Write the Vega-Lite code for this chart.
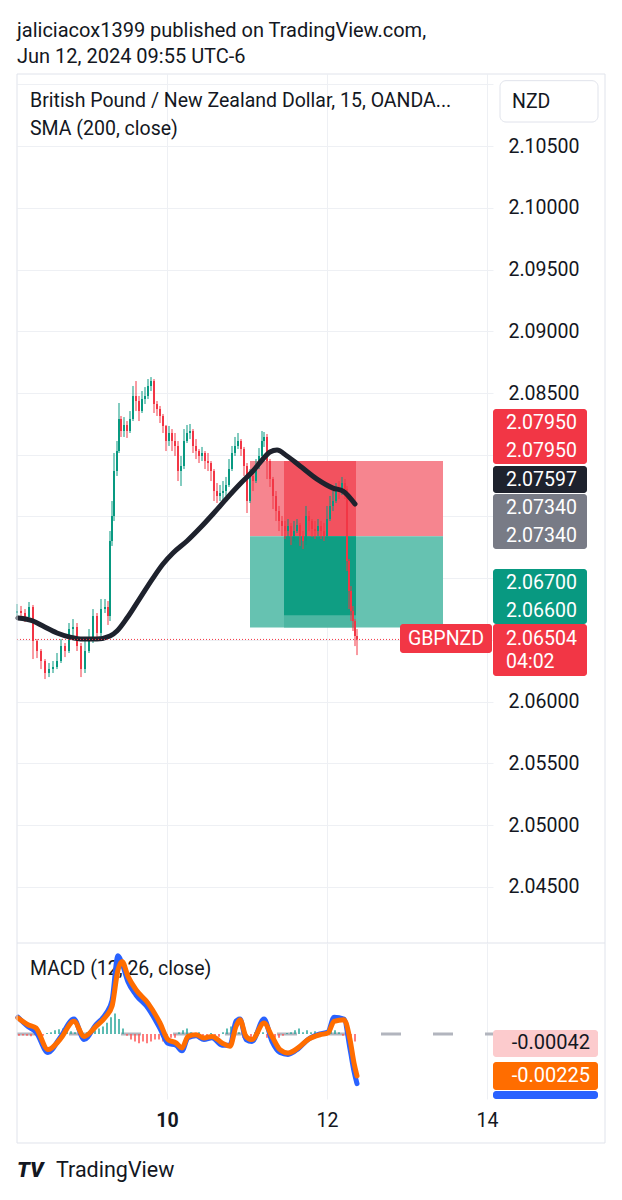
{
"$schema": "https://vega.github.io/schema/vega-lite/v6.json",
"background": "white",
"padding": {"left": 7, "top": 20, "right": 0, "bottom": 0},
"title": {"text": ["jaliciacox1399 published on TradingView.com,", "Jun 12, 2024 09:55 UTC-6"], "anchor": "start", "font": "Roboto", "fontSize": 20, "fontWeight": "normal", "color": "#131722", "lineHeight": 26, "offset": 7, "frame": "group"},
"spacing": 0,
"bounds": "flush",
"config": {"view": {"stroke": null}, "font": "Roboto", "axis": {"labelFont": "Roboto"}, "text": {"font": "Roboto"}},
"datasets": {
"candles": [
{"t":8.125,"o":2.06718,"h":2.06791,"l":2.06693,"c":2.06734},
{"t":8.175,"o":2.06734,"h":2.06775,"l":2.06669,"c":2.06718},
{"t":8.225,"o":2.06718,"h":2.0675,"l":2.06645,"c":2.06685},
{"t":8.275,"o":2.06685,"h":2.06807,"l":2.06669,"c":2.06766},
{"t":8.325,"o":2.06766,"h":2.06783,"l":2.06345,"c":2.06491},
{"t":8.375,"o":2.06491,"h":2.06507,"l":2.06353,"c":2.0641},
{"t":8.425,"o":2.0641,"h":2.06426,"l":2.06264,"c":2.06329},
{"t":8.475,"o":2.06329,"h":2.06345,"l":2.06183,"c":2.06232},
{"t":8.525,"o":2.06232,"h":2.06313,"l":2.06199,"c":2.06264},
{"t":8.575,"o":2.06264,"h":2.06329,"l":2.06232,"c":2.0628},
{"t":8.625,"o":2.0628,"h":2.06394,"l":2.06264,"c":2.06329},
{"t":8.675,"o":2.06329,"h":2.06507,"l":2.06313,"c":2.0645},
{"t":8.725,"o":2.0645,"h":2.06475,"l":2.06361,"c":2.0641},
{"t":8.775,"o":2.0641,"h":2.06637,"l":2.06394,"c":2.06588},
{"t":8.825,"o":2.06588,"h":2.06669,"l":2.06523,"c":2.06604},
{"t":8.875,"o":2.06604,"h":2.06637,"l":2.0641,"c":2.0645},
{"t":8.925,"o":2.0645,"h":2.06475,"l":2.06199,"c":2.06264},
{"t":8.975,"o":2.06264,"h":2.06507,"l":2.06232,"c":2.0641},
{"t":9.025,"o":2.0641,"h":2.06588,"l":2.06394,"c":2.06507},
{"t":9.075,"o":2.06507,"h":2.0675,"l":2.06475,"c":2.06693},
{"t":9.125,"o":2.06693,"h":2.06718,"l":2.06523,"c":2.06556},
{"t":9.175,"o":2.06556,"h":2.06831,"l":2.06531,"c":2.0675},
{"t":9.225,"o":2.0675,"h":2.06831,"l":2.06718,"c":2.06766},
{"t":9.2625,"o":2.06766,"h":2.06815,"l":2.06621,"c":2.06693},
{"t":9.2875,"o":2.06693,"h":2.07382,"l":2.06653,"c":2.07301},
{"t":9.3125,"o":2.07301,"h":2.07625,"l":2.07261,"c":2.07504},
{"t":9.3375,"o":2.07504,"h":2.08014,"l":2.07463,"c":2.07868},
{"t":9.375,"o":2.07868,"h":2.08111,"l":2.07828,"c":2.0803},
{"t":9.4,"o":2.0803,"h":2.08419,"l":2.08014,"c":2.08289},
{"t":9.425,"o":2.08289,"h":2.08314,"l":2.08144,"c":2.08192},
{"t":9.4625,"o":2.08192,"h":2.08305,"l":2.08144,"c":2.08241},
{"t":9.5,"o":2.08241,"h":2.08273,"l":2.08136,"c":2.08192},
{"t":9.5375,"o":2.08192,"h":2.08354,"l":2.08176,"c":2.08289},
{"t":9.575,"o":2.08289,"h":2.08557,"l":2.08273,"c":2.08476},
{"t":9.6125,"o":2.08476,"h":2.08597,"l":2.08354,"c":2.08435},
{"t":9.65,"o":2.08435,"h":2.08476,"l":2.08273,"c":2.08354},
{"t":9.6875,"o":2.08354,"h":2.08516,"l":2.08338,"c":2.08451},
{"t":9.725,"o":2.08451,"h":2.08548,"l":2.08411,"c":2.08476},
{"t":9.7625,"o":2.08476,"h":2.08613,"l":2.08451,"c":2.08557},
{"t":9.8,"o":2.08557,"h":2.08629,"l":2.08516,"c":2.08597},
{"t":9.8375,"o":2.08597,"h":2.08613,"l":2.08338,"c":2.08411},
{"t":9.875,"o":2.08411,"h":2.08435,"l":2.08314,"c":2.0837},
{"t":9.9125,"o":2.0837,"h":2.08395,"l":2.08257,"c":2.08314},
{"t":9.95,"o":2.08314,"h":2.0833,"l":2.08176,"c":2.08233},
{"t":9.9875,"o":2.08233,"h":2.08241,"l":2.0803,"c":2.08111},
{"t":10.025,"o":2.08111,"h":2.08233,"l":2.08071,"c":2.08176},
{"t":10.0625,"o":2.08176,"h":2.08208,"l":2.0803,"c":2.08111},
{"t":10.1,"o":2.08111,"h":2.08176,"l":2.0799,"c":2.08071},
{"t":10.1375,"o":2.08071,"h":2.08111,"l":2.07787,"c":2.07868},
{"t":10.175,"o":2.07868,"h":2.0799,"l":2.07747,"c":2.07909},
{"t":10.2125,"o":2.07909,"h":2.08208,"l":2.07884,"c":2.08111},
{"t":10.25,"o":2.08111,"h":2.08241,"l":2.08095,"c":2.08176},
{"t":10.2875,"o":2.08176,"h":2.08249,"l":2.08127,"c":2.08192},
{"t":10.325,"o":2.08192,"h":2.08208,"l":2.08014,"c":2.08071},
{"t":10.3625,"o":2.08071,"h":2.08127,"l":2.07965,"c":2.0803},
{"t":10.4,"o":2.0803,"h":2.08046,"l":2.07933,"c":2.0799},
{"t":10.4375,"o":2.0799,"h":2.08063,"l":2.07949,"c":2.08014},
{"t":10.475,"o":2.08014,"h":2.0803,"l":2.07884,"c":2.07949},
{"t":10.5125,"o":2.07949,"h":2.08014,"l":2.07868,"c":2.07933},
{"t":10.55,"o":2.07933,"h":2.07949,"l":2.07787,"c":2.07868},
{"t":10.5875,"o":2.07868,"h":2.07884,"l":2.07625,"c":2.07706},
{"t":10.625,"o":2.07706,"h":2.07771,"l":2.07609,"c":2.07666},
{"t":10.6625,"o":2.07666,"h":2.07755,"l":2.07625,"c":2.0769},
{"t":10.7,"o":2.0769,"h":2.07787,"l":2.07601,"c":2.07706},
{"t":10.7375,"o":2.07706,"h":2.0782,"l":2.07666,"c":2.07755},
{"t":10.775,"o":2.07755,"h":2.07965,"l":2.07739,"c":2.07884},
{"t":10.8125,"o":2.07884,"h":2.08071,"l":2.07868,"c":2.08014},
{"t":10.85,"o":2.08014,"h":2.08144,"l":2.0799,"c":2.08071},
{"t":10.8875,"o":2.08071,"h":2.08176,"l":2.08046,"c":2.08111},
{"t":10.925,"o":2.08111,"h":2.08127,"l":2.0799,"c":2.08046},
{"t":10.9625,"o":2.08046,"h":2.08063,"l":2.07828,"c":2.07909},
{"t":11.0,"o":2.07909,"h":2.07933,"l":2.07528,"c":2.07625},
{"t":11.0375,"o":2.07625,"h":2.07884,"l":2.07609,"c":2.07828},
{"t":11.075,"o":2.07828,"h":2.07884,"l":2.07706,"c":2.07787},
{"t":11.1125,"o":2.07787,"h":2.07965,"l":2.07771,"c":2.07909},
{"t":11.15,"o":2.07909,"h":2.08054,"l":2.07884,"c":2.0799},
{"t":11.1875,"o":2.0799,"h":2.08192,"l":2.07965,"c":2.08111},
{"t":11.2125,"o":2.08111,"h":2.08184,"l":2.08063,"c":2.08144},
{"t":11.25,"o":2.08144,"h":2.08168,"l":2.07803,"c":2.07949},
{"t":11.2875,"o":2.07949,"h":2.07965,"l":2.07739,"c":2.07803},
{"t":11.325,"o":2.07803,"h":2.0782,"l":2.0756,"c":2.07666},
{"t":11.3625,"o":2.07666,"h":2.07706,"l":2.07463,"c":2.07544},
{"t":11.4,"o":2.07544,"h":2.07585,"l":2.07382,"c":2.07463},
{"t":11.4375,"o":2.07463,"h":2.07504,"l":2.07342,"c":2.07423},
{"t":11.475,"o":2.07423,"h":2.07463,"l":2.07317,"c":2.07382},
{"t":11.5125,"o":2.07382,"h":2.07479,"l":2.07334,"c":2.07423},
{"t":11.55,"o":2.07423,"h":2.07447,"l":2.07269,"c":2.07342},
{"t":11.5875,"o":2.07342,"h":2.07463,"l":2.07301,"c":2.07382},
{"t":11.625,"o":2.07382,"h":2.07479,"l":2.07366,"c":2.07431},
{"t":11.6625,"o":2.07431,"h":2.07447,"l":2.07261,"c":2.07342},
{"t":11.7,"o":2.07342,"h":2.07382,"l":2.07236,"c":2.07301},
{"t":11.7375,"o":2.07301,"h":2.07585,"l":2.07269,"c":2.07504},
{"t":11.775,"o":2.07504,"h":2.07544,"l":2.07382,"c":2.07463},
{"t":11.8125,"o":2.07463,"h":2.07479,"l":2.07334,"c":2.07398},
{"t":11.85,"o":2.07398,"h":2.07463,"l":2.07317,"c":2.07382},
{"t":11.8875,"o":2.07382,"h":2.07479,"l":2.07342,"c":2.07423},
{"t":11.925,"o":2.07423,"h":2.07463,"l":2.07317,"c":2.07382},
{"t":11.9625,"o":2.07382,"h":2.07447,"l":2.07301,"c":2.07342},
{"t":12.0,"o":2.07342,"h":2.07585,"l":2.07326,"c":2.07479},
{"t":12.0375,"o":2.07479,"h":2.07666,"l":2.07463,"c":2.07585},
{"t":12.075,"o":2.07585,"h":2.07706,"l":2.07544,"c":2.07625},
{"t":12.1125,"o":2.07625,"h":2.07771,"l":2.07609,"c":2.07706},
{"t":12.15,"o":2.07706,"h":2.07787,"l":2.07641,"c":2.077},
{"t":12.1875,"o":2.077,"h":2.0782,"l":2.07674,"c":2.07771},
{"t":12.225,"o":2.07771,"h":2.07803,"l":2.07641,"c":2.07722},
{"t":12.25,"o":2.07722,"h":2.07747,"l":2.07058,"c":2.07139},
{"t":12.275,"o":2.07139,"h":2.07155,"l":2.0675,"c":2.06896},
{"t":12.3,"o":2.06896,"h":2.06936,"l":2.06653,"c":2.06734},
{"t":12.325,"o":2.06734,"h":2.06775,"l":2.06572,"c":2.06653},
{"t":12.35,"o":2.06653,"h":2.06669,"l":2.0645,"c":2.06531},
{"t":12.375,"o":2.06531,"h":2.06588,"l":2.06377,"c":2.06504}
],
"sma": [
{"t":8.1375,"v":2.06677},{"t":8.325,"v":2.06653},{"t":8.45,"v":2.06612},{"t":8.625,"v":2.06556},
{"t":8.7875,"v":2.06523},{"t":8.95,"v":2.06507},{"t":9.125,"v":2.06507},{"t":9.2875,"v":2.06531},
{"t":9.375,"v":2.06572},{"t":9.5,"v":2.06677},{"t":9.6625,"v":2.06839},{"t":9.825,"v":2.07001},
{"t":9.95,"v":2.07115},{"t":10.075,"v":2.07204},{"t":10.25,"v":2.07301},{"t":10.4125,"v":2.07406},
{"t":10.575,"v":2.0752},{"t":10.75,"v":2.07649},{"t":10.9125,"v":2.07763},{"t":11.075,"v":2.07868},
{"t":11.2,"v":2.07965},{"t":11.2875,"v":2.08022},{"t":11.375,"v":2.08038},{"t":11.5,"v":2.0799},
{"t":11.6625,"v":2.07909},{"t":11.875,"v":2.07803},{"t":12.075,"v":2.0773},{"t":12.2,"v":2.07706},
{"t":12.35,"v":2.07601}
],
"zones": [
{"t0":11.0375,"t1":13.45,"p0":2.0734,"p1":2.0795,"z":"stop"},
{"t0":11.0375,"t1":13.45,"p0":2.066,"p1":2.0734,"z":"target"},
{"t0":11.4625,"t1":12.3625,"p0":2.0734,"p1":2.0795,"z":"stopHit"},
{"t0":11.4625,"t1":12.3625,"p0":2.066,"p1":2.0734,"z":"targetMid"},
{"t0":11.4625,"t1":12.3625,"p0":2.067,"p1":2.0734,"z":"targetHit"}
],
"tags": [
{"g":"stop","hi":2.0837,"lo":2.07925},
{"g":"sma","hi":2.07909,"lo":2.0769},
{"g":"entry","hi":2.07682,"lo":2.07236},
{"g":"target","hi":2.07074,"lo":2.06629},
{"g":"last","hi":2.06629,"lo":2.06208}
],
"tagText": [
{"label":"2.07950","p":2.08257},
{"label":"2.07950","p":2.0803},
{"label":"2.07597","p":2.07795},
{"label":"2.07340","p":2.07568},
{"label":"2.07340","p":2.07342},
{"label":"2.06700","p":2.06961},
{"label":"2.06600","p":2.06734},
{"label":"2.06504","p":2.06507},
{"label":"04:02","p":2.06321}
],
"macd": [
{"t":8.1375,"m":0.0009,"s":0.00086},{"t":8.2625,"m":0.0004,"s":0.0005},{"t":8.3625,"m":0.0001,"s":0.00032},
{"t":8.5125,"m":-0.001,"s":-0.00084},{"t":8.6625,"m":-0.0002,"s":-0.0003},{"t":8.8375,"m":0.0008,"s":0.00068},
{"t":8.9625,"m":-0.0003,"s":-0.00013},{"t":9.1125,"m":0.0005,"s":0.00041},{"t":9.2375,"m":0.0011,"s":0.00095},
{"t":9.3125,"m":0.0018,"s":0.00149},{"t":9.3875,"m":0.0042,"s":0.00345},{"t":9.4375,"m":0.0038,"s":0.0039},
{"t":9.5125,"m":0.0028,"s":0.0031},{"t":9.6125,"m":0.0021,"s":0.00238},{"t":9.7625,"m":0.0014,"s":0.00166},
{"t":9.9125,"m":0.0003,"s":0.00059},{"t":10.0125,"m":-0.0005,"s":-0.0003},{"t":10.1125,"m":-0.0006,"s":-0.00048},
{"t":10.1875,"m":-0.0009,"s":-0.00075},{"t":10.2625,"m":-0.0002,"s":-0.00013},{"t":10.3625,"m":-0.0001,"s":-0.00004},
{"t":10.4625,"m":-0.0003,"s":-0.00021},{"t":10.5625,"m":-0.0002,"s":-0.00013},{"t":10.6875,"m":-0.0006,"s":-0.00048},
{"t":10.7875,"m":-0.0006,"s":-0.00066},{"t":10.8625,"m":0.0007,"s":0.00041},{"t":10.9125,"m":0.0008,"s":0.00077},
{"t":10.9875,"m":-0.0003,"s":-0.00013},{"t":11.0625,"m":-0.0004,"s":-0.0003},{"t":11.2125,"m":0.0008,"s":0.00059},
{"t":11.3125,"m":-0.0004,"s":-0.00013},{"t":11.4125,"m":-0.001,"s":-0.00084},{"t":11.5125,"m":-0.0011,"s":-0.00102},
{"t":11.6375,"m":-0.0008,"s":-0.00075},{"t":11.7625,"m":-0.0003,"s":-0.0003},{"t":11.9125,"m":0.0,"s":-0.00004},
{"t":12.0125,"m":0.0001,"s":0.00005},{"t":12.0875,"m":0.0009,"s":0.00068},{"t":12.2125,"m":0.0008,"s":0.00077},
{"t":12.2875,"m":-0.0008,"s":-0.0003},{"t":12.3375,"m":-0.002,"s":-0.00156},{"t":12.375,"m":-0.00267,"s":-0.00225}
],
"hist": [
{"t":8.15,"h":-0.0001},{"t":8.2,"h":-0.00008},{"t":8.25,"h":-0.0001},{"t":8.3,"h":-0.00012},{"t":8.35,"h":-0.00005},
{"t":8.4,"h":-0.00008},{"t":8.45,"h":-0.0001},{"t":8.5,"h":0.00005},{"t":8.55,"h":0.0001},{"t":8.6,"h":0.0002},
{"t":8.65,"h":0.00025},{"t":8.7,"h":0.0003},{"t":8.75,"h":0.0002},{"t":8.8,"h":0.00015},{"t":8.85,"h":0.0001},
{"t":8.9,"h":-0.00005},{"t":8.95,"h":0.00005},{"t":9.0,"h":0.0001},{"t":9.05,"h":0.00015},{"t":9.1,"h":0.0002},
{"t":9.15,"h":0.0003},{"t":9.2,"h":0.0004},{"t":9.25,"h":0.0006},{"t":9.3,"h":0.0009},{"t":9.35,"h":0.0011},
{"t":9.4,"h":0.0008},{"t":9.45,"h":0.0003},{"t":9.5,"h":-0.0001},{"t":9.55,"h":-0.0003},{"t":9.6,"h":-0.0004},
{"t":9.65,"h":-0.0005},{"t":9.7,"h":-0.0004},{"t":9.75,"h":-0.0005},{"t":9.8,"h":-0.0004},{"t":9.85,"h":-0.0003},
{"t":9.9,"h":-0.0003},{"t":9.95,"h":-0.0004},{"t":10.0,"h":-0.0003},{"t":10.05,"h":-0.0002},{"t":10.1,"h":-0.0002},
{"t":10.15,"h":0.0001},{"t":10.2,"h":0.0002},{"t":10.25,"h":0.0003},{"t":10.3,"h":0.0001},{"t":10.35,"h":-0.0001},
{"t":10.4,"h":0.0001},{"t":10.45,"h":-0.0002},{"t":10.5,"h":-0.0001},{"t":10.55,"h":0.00005},{"t":10.6,"h":-0.0001},
{"t":10.65,"h":-0.00015},{"t":10.7,"h":0.0001},{"t":10.75,"h":0.0003},{"t":10.8,"h":0.0004},{"t":10.85,"h":0.0003},
{"t":10.9,"h":0.0001},{"t":10.95,"h":-0.0002},{"t":11.0,"h":-0.0003},{"t":11.05,"h":-0.0002},{"t":11.1,"h":0.0001},
{"t":11.15,"h":0.0002},{"t":11.2,"h":0.0001},{"t":11.25,"h":-0.0002},{"t":11.3,"h":-0.0003},{"t":11.35,"h":-0.0002},
{"t":11.4,"h":-0.0002},{"t":11.45,"h":-0.0001},{"t":11.5,"h":0.00005},{"t":11.55,"h":0.0001},{"t":11.6,"h":0.0002},
{"t":11.65,"h":0.0003},{"t":11.7,"h":0.0001},{"t":11.75,"h":0.0002},{"t":11.8,"h":0.0001},{"t":11.85,"h":0.00015},
{"t":11.9,"h":0.0001},{"t":11.95,"h":0.00005},{"t":12.0,"h":0.0001},{"t":12.05,"h":0.0002},{"t":12.1,"h":0.0002},
{"t":12.15,"h":0.0001},{"t":12.2,"h":-0.0001},{"t":12.25,"h":-0.0003},{"t":12.3,"h":-0.0004},{"t":12.35,"h":-0.0004}
],
"mtags": [
{"g":"hist","hi":0.000215,"lo":-0.001237},
{"g":"signal","hi":-0.001505,"lo":-0.003011},
{"g":"macd","hi":-0.003065,"lo":-0.003495}
],
"mtagText": [
{"label":"-0.00042","v":-0.000484,"g":"hist"},
{"label":"-0.00225","v":-0.002258,"g":"signal"}
]
},
"vconcat": [
{
"width": 476,
"height": 869,
"layer": [
{
"data": {"name": "zones"},
"mark": {"type": "rect"},
"encoding": {
"x": {"field": "t0", "type": "quantitative", "scale": {"domain": [8.125, 14.075], "nice": false, "zero": false},
"axis": {"values": [10, 12, 14], "grid": true, "gridColor": "#eef0f4", "labels": false, "ticks": false, "domain": false, "title": null}},
"x2": {"field": "t1"},
"y": {"field": "p0", "type": "quantitative", "scale": {"domain": [2.04045, 2.11084], "nice": false, "zero": false},
"axis": {"orient": "right", "values": [2.045, 2.05, 2.055, 2.06, 2.065, 2.07, 2.075, 2.08, 2.085, 2.09, 2.095, 2.1, 2.105, 2.11], "format": ".5f",
"labelExpr": "datum.value > 2.1075 || (datum.value > 2.0625 && datum.value < 2.0825) ? '' : datum.label",
"grid": true, "gridColor": "#eef0f4", "ticks": false, "domain": false, "labelPadding": 15, "labelFontSize": 19.5, "labelColor": "#131722", "title": null}},
"y2": {"field": "p1"},
"color": {"condition": [
{"test": "datum.z == 'stop'", "value": "#f6858f"},
{"test": "datum.z == 'target'", "value": "#66c2b1"},
{"test": "datum.z == 'stopHit'", "value": "#f2525f"},
{"test": "datum.z == 'targetMid'", "value": "#4db6a2"}
], "value": "#0f9e83"}
}
},
{
"data": {"values": [{}]},
"mark": {"type": "text", "align": "left", "baseline": "middle", "fontSize": 19.5, "color": "#131722"},
"encoding": {"x": {"datum": 8.2875}, "y": {"datum": 2.10865}, "text": {"value": "British Pound / New Zealand Dollar, 15, OANDA..."}}
},
{
"data": {"values": [{}]},
"mark": {"type": "text", "align": "left", "baseline": "middle", "fontSize": 19.5, "color": "#131722"},
"encoding": {"x": {"datum": 8.2875}, "y": {"datum": 2.10638}, "text": {"value": "SMA (200, close)"}}
},
{
"data": {"name": "candles"},
"mark": {"type": "rule", "strokeWidth": 1},
"encoding": {
"x": {"field": "t", "type": "quantitative"},
"y": {"field": "l", "type": "quantitative"},
"y2": {"field": "h"},
"color": {"condition": {"test": "datum.c >= datum.o", "value": "#089981"}, "value": "#f23645"}
}
},
{
"data": {"name": "candles"},
"mark": {"type": "rule", "strokeWidth": 2},
"encoding": {
"x": {"field": "t", "type": "quantitative"},
"y": {"field": "o", "type": "quantitative"},
"y2": {"field": "c"},
"color": {"condition": {"test": "datum.c >= datum.o", "value": "#089981"}, "value": "#f23645"}
}
},
{
"data": {"name": "sma"},
"mark": {"type": "line", "strokeWidth": 5, "color": "#1e222d", "interpolate": "monotone", "strokeCap": "round"},
"encoding": {"x": {"field": "t", "type": "quantitative"}, "y": {"field": "v", "type": "quantitative"}}
},
{
"data": {"values": [{}]},
"mark": {"type": "rule", "color": "#f23645", "strokeWidth": 1, "strokeDash": [1, 2]},
"encoding": {"x": {"datum": 8.125}, "x2": {"datum": 14.075}, "y": {"datum": 2.06504}}
},
{
"data": {"values": [{}]},
"mark": {"type": "rect", "color": "#f23645", "cornerRadius": 3},
"encoding": {"x": {"datum": 12.9125}, "x2": {"datum": 14.0625}, "y": {"datum": 2.06394}, "y2": {"datum": 2.06629}}
},
{
"data": {"values": [{}]},
"mark": {"type": "text", "align": "center", "baseline": "middle", "fontSize": 19.5, "color": "white"},
"encoding": {"x": {"datum": 13.4875}, "y": {"datum": 2.06507}, "text": {"value": "GBPNZD"}}
},
{
"data": {"name": "tags"},
"mark": {"type": "rect", "cornerRadius": 3},
"encoding": {
"x": {"datum": 14.075}, "x2": {"datum": 15.25},
"y": {"field": "lo", "type": "quantitative"}, "y2": {"field": "hi"},
"color": {"condition": [
{"test": "datum.g == 'sma'", "value": "#1e222d"},
{"test": "datum.g == 'entry'", "value": "#787b86"},
{"test": "datum.g == 'target'", "value": "#089981"}
], "value": "#f23645"}
}
},
{
"data": {"name": "tagText"},
"mark": {"type": "text", "align": "left", "baseline": "middle", "fontSize": 19.5, "color": "white"},
"encoding": {"x": {"datum": 14.2375}, "y": {"field": "p", "type": "quantitative"}, "text": {"field": "label"}}
},
{
"data": {"values": [{}]},
"mark": {"type": "rect", "fill": "white", "stroke": "#e0e3eb", "strokeWidth": 1, "cornerRadius": 6},
"encoding": {"x": {"datum": 14.1625}, "x2": {"datum": 15.3875}, "y": {"datum": 2.10695}, "y2": {"datum": 2.1103}}
},
{
"data": {"values": [{}]},
"mark": {"type": "text", "align": "left", "baseline": "middle", "fontSize": 19.5, "color": "#131722"},
"encoding": {"x": {"datum": 14.3125}, "y": {"datum": 2.10857}, "text": {"value": "NZD"}}
},
{
"data": {"values": [{}]},
"mark": {"type": "rule", "color": "#e0e3eb"},
"encoding": {"x": {"datum": 8.125}, "x2": {"datum": 15.475}, "y": {"datum": 2.11084}}
},
{
"data": {"values": [{}]},
"mark": {"type": "rule", "color": "#e0e3eb"},
"encoding": {"x": {"datum": 8.125}, "x2": {"datum": 15.475}, "y": {"datum": 2.04045}}
},
{
"data": {"values": [{}]},
"mark": {"type": "rule", "color": "#e0e3eb"},
"encoding": {"x": {"datum": 8.125}, "y": {"datum": 2.04045}, "y2": {"datum": 2.11084}}
},
{
"data": {"values": [{}]},
"mark": {"type": "rule", "color": "#e0e3eb"},
"encoding": {"x": {"datum": 15.475}, "y": {"datum": 2.04045}, "y2": {"datum": 2.11084}}
}
]
},
{
"width": 476,
"height": 156,
"layer": [
{
"data": {"values": [{}]},
"mark": {"type": "rule", "color": "#b2b5be", "strokeWidth": 3, "strokeDash": [20, 32]},
"encoding": {
"x": {"datum": 8.125, "type": "quantitative", "scale": {"domain": [8.125, 14.075], "nice": false, "zero": false},
"axis": {"values": [10, 12, 14], "format": "d", "grid": true, "gridColor": "#eef0f4", "ticks": false, "domain": false, "labelPadding": 12, "labelFontSize": 19.5, "labelColor": "#131722", "title": null,
"labelFontWeight": {"condition": {"test": "datum.value == 10", "value": "bold"}, "value": "normal"}}},
"x2": {"datum": 15.3875},
"y": {"datum": 0, "type": "quantitative", "scale": {"domain": [-0.003495, 0.004892], "nice": false, "zero": false}, "axis": null}
}
},
{
"data": {"name": "hist"},
"mark": {"type": "rule", "strokeWidth": 1.5},
"encoding": {
"x": {"field": "t", "type": "quantitative"},
"y": {"field": "h", "type": "quantitative"},
"y2": {"datum": 0},
"color": {"condition": {"test": "datum.h >= 0", "value": "#26a69a"}, "value": "#ff5252"}
}
},
{
"data": {"values": [{}]},
"mark": {"type": "text", "align": "left", "baseline": "middle", "fontSize": 19.5, "color": "#131722"},
"encoding": {"x": {"datum": 8.2875}, "y": {"datum": 0.00349}, "text": {"value": "MACD (12, 26, close)"}}
},
{
"data": {"name": "macd"},
"mark": {"type": "line", "strokeWidth": 5, "color": "#2962ff", "interpolate": "monotone", "strokeCap": "round"},
"encoding": {"x": {"field": "t", "type": "quantitative"}, "y": {"field": "m", "type": "quantitative"}}
},
{
"data": {"name": "macd"},
"mark": {"type": "line", "strokeWidth": 5, "color": "#ff6d00", "interpolate": "monotone", "strokeCap": "round"},
"encoding": {"x": {"field": "t", "type": "quantitative"}, "y": {"field": "s", "type": "quantitative"}}
},
{
"data": {"name": "mtags"},
"mark": {"type": "rect", "cornerRadius": 3},
"encoding": {
"x": {"datum": 14.075}, "x2": {"datum": 15.3875},
"y": {"field": "lo", "type": "quantitative"}, "y2": {"field": "hi"},
"color": {"condition": [
{"test": "datum.g == 'hist'", "value": "#fccbcd"},
{"test": "datum.g == 'signal'", "value": "#ff6d00"}
], "value": "#2962ff"}
}
},
{
"data": {"name": "mtagText"},
"mark": {"type": "text", "align": "right", "baseline": "middle", "fontSize": 20},
"encoding": {
"x": {"datum": 15.2875}, "y": {"field": "v", "type": "quantitative"}, "text": {"field": "label"},
"color": {"condition": {"test": "datum.g == 'hist'", "value": "#131722"}, "value": "white"}
}
},
{
"data": {"values": [{}]},
"mark": {"type": "text", "align": "left", "baseline": "middle", "fontSize": 21.5, "color": "#131722"},
"encoding": {"x": {"datum": 8.6125}, "y": {"datum": -0.007366}, "text": {"value": "TradingView"}}
},
{
"data": {"values": [{}]},
"mark": {"type": "text", "align": "left", "baseline": "middle", "fontSize": 21, "fontWeight": 900, "fontStyle": "italic", "color": "#131722"},
"encoding": {"x": {"datum": 8.125}, "y": {"datum": -0.007366}, "text": {"value": "TV"}}
},
{
"data": {"values": [{}]},
"mark": {"type": "rule", "color": "#e0e3eb"},
"encoding": {"x": {"datum": 8.125}, "x2": {"datum": 15.475}, "y": {"datum": -0.00586}}
},
{
"data": {"values": [{}]},
"mark": {"type": "rule", "color": "#e0e3eb"},
"encoding": {"x": {"datum": 8.125}, "y": {"datum": -0.00586}, "y2": {"datum": 0.004892}}
},
{
"data": {"values": [{}]},
"mark": {"type": "rule", "color": "#e0e3eb"},
"encoding": {"x": {"datum": 15.475}, "y": {"datum": -0.00586}, "y2": {"datum": 0.004892}}
}
]
}
]
}
